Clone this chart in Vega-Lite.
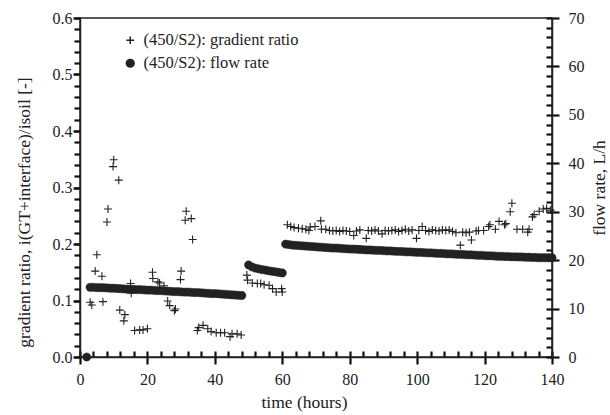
{
  "$schema": "https://vega.github.io/schema/vega-lite/v6.json",
  "autosize": {"type": "none"},
  "padding": {"left": 80, "top": 18, "right": 58, "bottom": 58},
  "width": 472,
  "height": 339,
  "config": {
    "view": {"stroke": "#222", "strokeWidth": 1.5},
    "font": "Liberation Serif",
    "axis": {"labelFont": "Liberation Serif", "titleFont": "Liberation Serif", "labelFontSize": 16, "titleFontSize": 17.5, "titleFontWeight": "normal", "labelColor": "#222", "titleColor": "#222", "domainColor": "#222", "domainWidth": 1.5, "grid": false, "labelFlush": false, "labelOverlap": false},
    "legend": {"labelFont": "Liberation Serif", "labelFontSize": 16.5, "labelColor": "#222"}
  },
  "datasets": {
    "grad": [
      {"t": 3, "g": 0.097}, {"t": 3.5, "g": 0.092}, {"t": 4.5, "g": 0.152}, {"t": 5, "g": 0.181}, {"t": 6.5, "g": 0.143}, {"t": 6.8, "g": 0.098},
      {"t": 8, "g": 0.239}, {"t": 8.3, "g": 0.262}, {"t": 9.8, "g": 0.337}, {"t": 10, "g": 0.349}, {"t": 11.5, "g": 0.313}, {"t": 11.8, "g": 0.083},
      {"t": 13, "g": 0.064}, {"t": 13.3, "g": 0.075}, {"t": 15, "g": 0.130}, {"t": 15.2, "g": 0.113}, {"t": 16.2, "g": 0.047}, {"t": 17.7, "g": 0.048},
      {"t": 18.7, "g": 0.048}, {"t": 20, "g": 0.050}, {"t": 21.5, "g": 0.150}, {"t": 21.6, "g": 0.139}, {"t": 23.1, "g": 0.133}, {"t": 23.6, "g": 0.131},
      {"t": 24.9, "g": 0.126}, {"t": 26, "g": 0.099}, {"t": 26.6, "g": 0.091}, {"t": 28, "g": 0.082}, {"t": 28.3, "g": 0.085}, {"t": 29.8, "g": 0.137},
      {"t": 30, "g": 0.152}, {"t": 31.2, "g": 0.242}, {"t": 31.5, "g": 0.258}, {"t": 33, "g": 0.245}, {"t": 33.4, "g": 0.208}, {"t": 34.8, "g": 0.047},
      {"t": 35.2, "g": 0.052}, {"t": 36.5, "g": 0.056}, {"t": 37.9, "g": 0.050}, {"t": 38.9, "g": 0.045}, {"t": 40.4, "g": 0.043}, {"t": 41.7, "g": 0.043},
      {"t": 42.9, "g": 0.043}, {"t": 44.5, "g": 0.036}, {"t": 45.1, "g": 0.041}, {"t": 46.6, "g": 0.041}, {"t": 47.8, "g": 0.039},
      {"t": 49.5, "g": 0.145}, {"t": 49.7, "g": 0.136}, {"t": 51.1, "g": 0.131}, {"t": 52.6, "g": 0.130}, {"t": 53.6, "g": 0.130}, {"t": 54.6, "g": 0.128},
      {"t": 56.1, "g": 0.127}, {"t": 57.1, "g": 0.121}, {"t": 58.2, "g": 0.115}, {"t": 59.8, "g": 0.121}, {"t": 60, "g": 0.115},
      {"t": 61.5, "g": 0.234}, {"t": 62.5, "g": 0.231}, {"t": 63.5, "g": 0.229}, {"t": 64.8, "g": 0.228}, {"t": 65.9, "g": 0.227}, {"t": 67, "g": 0.226},
      {"t": 67.9, "g": 0.224}, {"t": 68.3, "g": 0.230}, {"t": 69.7, "g": 0.231}, {"t": 71.4, "g": 0.241}, {"t": 71.6, "g": 0.226}, {"t": 72.9, "g": 0.226},
      {"t": 74, "g": 0.224}, {"t": 75, "g": 0.223}, {"t": 76, "g": 0.224}, {"t": 77, "g": 0.222}, {"t": 78, "g": 0.224}, {"t": 79, "g": 0.223},
      {"t": 80, "g": 0.222}, {"t": 81.2, "g": 0.215}, {"t": 82, "g": 0.223}, {"t": 83, "g": 0.225}, {"t": 84.9, "g": 0.210}, {"t": 85.5, "g": 0.224},
      {"t": 86.5, "g": 0.223}, {"t": 87.5, "g": 0.225}, {"t": 88.5, "g": 0.223}, {"t": 89.6, "g": 0.218}, {"t": 90.5, "g": 0.224}, {"t": 91.5, "g": 0.223},
      {"t": 92.5, "g": 0.224}, {"t": 93.5, "g": 0.225}, {"t": 94.5, "g": 0.222}, {"t": 95.5, "g": 0.224}, {"t": 96.5, "g": 0.226}, {"t": 97.5, "g": 0.223},
      {"t": 98.5, "g": 0.225}, {"t": 99.8, "g": 0.210}, {"t": 100.5, "g": 0.224}, {"t": 101.5, "g": 0.231}, {"t": 102.5, "g": 0.224}, {"t": 103.5, "g": 0.222},
      {"t": 104.5, "g": 0.225}, {"t": 105.5, "g": 0.224}, {"t": 106.5, "g": 0.223}, {"t": 107.5, "g": 0.225}, {"t": 108.5, "g": 0.224}, {"t": 109.5, "g": 0.225},
      {"t": 110.5, "g": 0.222}, {"t": 111.5, "g": 0.220}, {"t": 112.8, "g": 0.198}, {"t": 113.5, "g": 0.221}, {"t": 114.5, "g": 0.220}, {"t": 115.5, "g": 0.221},
      {"t": 116.1, "g": 0.207}, {"t": 117.5, "g": 0.223}, {"t": 118.2, "g": 0.224}, {"t": 119.7, "g": 0.224}, {"t": 121.2, "g": 0.231}, {"t": 121.6, "g": 0.234},
      {"t": 123.2, "g": 0.226}, {"t": 124.3, "g": 0.240}, {"t": 125.9, "g": 0.234}, {"t": 126.3, "g": 0.236}, {"t": 127.6, "g": 0.257}, {"t": 128.1, "g": 0.272},
      {"t": 129.6, "g": 0.226}, {"t": 131.3, "g": 0.226}, {"t": 132.8, "g": 0.221}, {"t": 133.2, "g": 0.226}, {"t": 134.2, "g": 0.248}, {"t": 134.7, "g": 0.252},
      {"t": 136.2, "g": 0.258}, {"t": 137.4, "g": 0.262}, {"t": 138.4, "g": 0.263}, {"t": 139.6, "g": 0.260}
    ],
    "flow": [
      {"t": 2, "f": 0},
      {"t": 3, "f": 14.4}, {"t": 4, "f": 14.4}, {"t": 5, "f": 14.35}, {"t": 6, "f": 14.3}, {"t": 7, "f": 14.3}, {"t": 8, "f": 14.25}, {"t": 9, "f": 14.2},
      {"t": 10, "f": 14.2}, {"t": 11, "f": 14.15}, {"t": 12, "f": 14.1}, {"t": 13, "f": 14.05}, {"t": 14, "f": 14.0}, {"t": 15, "f": 14.0}, {"t": 16, "f": 13.95},
      {"t": 17, "f": 13.9}, {"t": 18, "f": 13.9}, {"t": 19, "f": 13.85}, {"t": 20, "f": 13.8}, {"t": 21, "f": 13.8}, {"t": 22, "f": 13.75}, {"t": 23, "f": 13.7},
      {"t": 24, "f": 13.7}, {"t": 25, "f": 13.65}, {"t": 26, "f": 13.6}, {"t": 27, "f": 13.55}, {"t": 28, "f": 13.5}, {"t": 29, "f": 13.5}, {"t": 30, "f": 13.45},
      {"t": 31, "f": 13.4}, {"t": 32, "f": 13.4}, {"t": 33, "f": 13.35}, {"t": 34, "f": 13.3}, {"t": 35, "f": 13.3}, {"t": 36, "f": 13.25}, {"t": 37, "f": 13.2},
      {"t": 38, "f": 13.15}, {"t": 39, "f": 13.1}, {"t": 40, "f": 13.1}, {"t": 41, "f": 13.05}, {"t": 42, "f": 13.0}, {"t": 43, "f": 12.95}, {"t": 44, "f": 12.9},
      {"t": 45, "f": 12.85}, {"t": 46, "f": 12.8}, {"t": 47, "f": 12.75}, {"t": 48, "f": 12.7},
      {"t": 50, "f": 19.0}, {"t": 51, "f": 18.6}, {"t": 52, "f": 18.35}, {"t": 53, "f": 18.2}, {"t": 54, "f": 18.05}, {"t": 55, "f": 17.95}, {"t": 56, "f": 17.8},
      {"t": 57, "f": 17.7}, {"t": 58, "f": 17.6}, {"t": 59, "f": 17.45}, {"t": 60, "f": 17.35},
      {"t": 61, "f": 23.3}, {"t": 62, "f": 23.2}, {"t": 63, "f": 23.1}, {"t": 64, "f": 23.05}, {"t": 65, "f": 23.0}, {"t": 66, "f": 22.95}, {"t": 67, "f": 22.9},
      {"t": 68, "f": 22.85}, {"t": 69, "f": 22.8}, {"t": 70, "f": 22.75}, {"t": 71, "f": 22.7}, {"t": 72, "f": 22.65}, {"t": 73, "f": 22.6}, {"t": 74, "f": 22.55},
      {"t": 75, "f": 22.5}, {"t": 76, "f": 22.5}, {"t": 77, "f": 22.45}, {"t": 78, "f": 22.4}, {"t": 79, "f": 22.35}, {"t": 80, "f": 22.3}, {"t": 81, "f": 22.3},
      {"t": 82, "f": 22.25}, {"t": 83, "f": 22.2}, {"t": 84, "f": 22.15}, {"t": 85, "f": 22.1}, {"t": 86, "f": 22.1}, {"t": 87, "f": 22.05}, {"t": 88, "f": 22.0},
      {"t": 89, "f": 22.0}, {"t": 90, "f": 21.95}, {"t": 91, "f": 21.9}, {"t": 92, "f": 21.9}, {"t": 93, "f": 21.85}, {"t": 94, "f": 21.8}, {"t": 95, "f": 21.8},
      {"t": 96, "f": 21.75}, {"t": 97, "f": 21.7}, {"t": 98, "f": 21.7}, {"t": 99, "f": 21.65}, {"t": 100, "f": 21.6}, {"t": 101, "f": 21.6}, {"t": 102, "f": 21.55},
      {"t": 103, "f": 21.5}, {"t": 104, "f": 21.5}, {"t": 105, "f": 21.45}, {"t": 106, "f": 21.4}, {"t": 107, "f": 21.4}, {"t": 108, "f": 21.35}, {"t": 109, "f": 21.3},
      {"t": 110, "f": 21.3}, {"t": 111, "f": 21.25}, {"t": 112, "f": 21.2}, {"t": 113, "f": 21.2}, {"t": 114, "f": 21.15}, {"t": 115, "f": 21.1}, {"t": 116, "f": 21.1},
      {"t": 117, "f": 21.05}, {"t": 118, "f": 21.0}, {"t": 119, "f": 21.0}, {"t": 120, "f": 20.95}, {"t": 121, "f": 20.9}, {"t": 122, "f": 20.9}, {"t": 123, "f": 20.85},
      {"t": 124, "f": 20.8}, {"t": 125, "f": 20.8}, {"t": 126, "f": 20.75}, {"t": 127, "f": 20.75}, {"t": 128, "f": 20.7}, {"t": 129, "f": 20.7}, {"t": 130, "f": 20.65},
      {"t": 131, "f": 20.65}, {"t": 132, "f": 20.6}, {"t": 133, "f": 20.6}, {"t": 134, "f": 20.55}, {"t": 135, "f": 20.55}, {"t": 136, "f": 20.5}, {"t": 137, "f": 20.5},
      {"t": 138, "f": 20.5}, {"t": 139, "f": 20.5}, {"t": 140, "f": 20.5}
    ]
  },
  "layer": [
    {
      "data": {"name": "flow"},
      "mark": {"type": "point", "opacity": 0, "size": 1},
      "encoding": {
        "x": {"field": "t", "type": "quantitative", "scale": {"domain": [0, 140], "nice": false},
          "axis": {"orient": "bottom", "title": null, "labels": false, "domain": false, "ticks": true, "tickSize": -6, "tickColor": "#111", "tickWidth": 2.2, "tickOpacity": 1,
            "values": [0,4,8,12,16,20,24,28,32,36,40,44,48,52,56,60,64,68,72,76,80,84,88,92,96,100,104,108,112,116,120,124,128,132,136,140]}},
        "y": {"field": "f", "type": "quantitative", "scale": {"domain": [0, 70], "nice": false},
          "axis": {"orient": "right", "title": null, "labels": false, "domain": false, "ticks": true, "tickSize": -6, "tickColor": "#111", "tickWidth": 2.2, "tickOpacity": 1,
            "values": [0,2,4,6,8,10,12,14,16,18,20,22,24,26,28,30,32,34,36,38,40,42,44,46,48,50,52,54,56,58,60,62,64,66,68,70]}}
      }
    },
    {
      "data": {"name": "grad"},
      "mark": {"type": "point", "opacity": 0, "size": 1},
      "encoding": {
        "x": {"field": "t", "type": "quantitative", "axis": null},
        "y": {"field": "g", "type": "quantitative", "scale": {"domain": [0, 0.6], "nice": false},
          "axis": {"orient": "left", "title": null, "labels": false, "domain": false, "ticks": true, "tickSize": 6, "tickColor": "#111", "tickWidth": 2.2, "tickOpacity": 1,
            "values": [0,0.02,0.04,0.06,0.08,0.1,0.12,0.14,0.16,0.18,0.2,0.22,0.24,0.26,0.28,0.3,0.32,0.34,0.36,0.38,0.4,0.42,0.44,0.46,0.48,0.5,0.52,0.54,0.56,0.58,0.6]}}
      }
    },
    {
      "data": {"name": "flow"},
      "mark": {"type": "point", "filled": true, "stroke": "#222", "strokeWidth": 0.5, "size": 68, "opacity": 1, "clip": false},
      "encoding": {
        "x": {"field": "t", "type": "quantitative",
          "axis": {"orient": "bottom", "title": "time (hours)", "values": [0,20,40,60,80,100,120,140], "ticks": true, "tickSize": 7, "tickColor": "#111", "tickWidth": 2.2, "tickOpacity": 1, "labelPadding": 7, "titlePadding": 6, "titleX": 224}},
        "y": {"field": "f", "type": "quantitative", "scale": {"domain": [0, 70], "nice": false},
          "axis": {"orient": "right", "title": "flow rate, L/h", "titleAngle": 270, "values": [0,10,20,30,40,50,60,70],
            "ticks": true, "tickSize": 7, "tickColor": "#111", "tickWidth": 2.2, "tickOpacity": 1, "labelPadding": 9, "titlePadding": 24}},
        "shape": {"datum": "(450/S2): flow rate", "type": "nominal",
          "scale": {"domain": ["(450/S2): gradient ratio", "(450/S2): flow rate"], "range": ["M-1,0L1,0M0,-1L0,1", "circle"]},
          "legend": {"title": null, "orient": "none", "legendX": 42, "legendY": 14, "symbolSize": 60, "rowPadding": 6, "labelOffset": 5, "padding": 0,
            "encode": {"symbols": {"update": {"stroke": {"value": "#222"}, "strokeWidth": {"value": 1.1}}}}}},
        "fill": {"datum": "(450/S2): flow rate", "type": "nominal",
          "scale": {"domain": ["(450/S2): gradient ratio", "(450/S2): flow rate"], "range": ["transparent", "#222"]},
          "legend": {"title": null, "orient": "none", "legendX": 42, "legendY": 14, "symbolSize": 60, "rowPadding": 6, "labelOffset": 5, "padding": 0,
            "encode": {"symbols": {"update": {"stroke": {"value": "#222"}, "strokeWidth": {"value": 1.1}}}}}}
      }
    },
    {
      "data": {"name": "grad"},
      "mark": {"type": "point", "filled": true, "stroke": "#222", "strokeWidth": 1.1, "size": 64, "opacity": 1, "clip": false},
      "encoding": {
        "x": {"field": "t", "type": "quantitative", "axis": null},
        "y": {"field": "g", "type": "quantitative", "scale": {"domain": [0, 0.6], "nice": false},
          "axis": {"orient": "left", "title": "gradient ratio, i(GT+interface)/isoil [-]",
            "values": [0, 0.1, 0.2, 0.3, 0.4, 0.5, 0.6], "format": ".1f", "ticks": true, "tickSize": 7, "tickColor": "#111", "tickWidth": 2.2, "tickOpacity": 1,
            "labelPadding": 1, "titlePadding": 19, "titleY": 194}},
        "shape": {"datum": "(450/S2): gradient ratio", "type": "nominal"},
        "fill": {"datum": "(450/S2): gradient ratio", "type": "nominal"}
      }
    }
  ],
  "resolve": {"scale": {"y": "independent"}, "axis": {"y": "independent", "x": "independent"}}
}
